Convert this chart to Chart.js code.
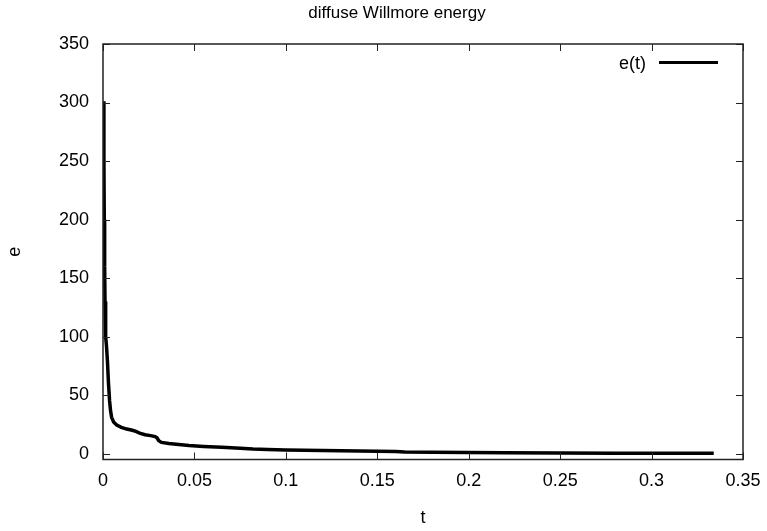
<!DOCTYPE html>
<html>
<head>
<meta charset="utf-8">
<title>diffuse Willmore energy</title>
<script src="https://cdn.jsdelivr.net/npm/chart.js@4.4.1/dist/chart.umd.min.js"></script>
<style>
  html, body { margin: 0; padding: 0; background: #fff; }
  #wrap { width: 767px; height: 531px; }
</style>
</head>
<body>
<div id="wrap"><canvas id="chart"></canvas></div>
<script>
// energy curve e(t)
const tValues = [0.0004, 0.0005, 0.0007, 0.0009, 0.0011, 0.0013, 0.0016, 0.0019, 0.0024, 0.0030,
  0.0036, 0.0041, 0.0047, 0.0058, 0.0075, 0.010, 0.013, 0.016, 0.018, 0.020,
  0.023, 0.026, 0.0285, 0.0295, 0.0305, 0.032, 0.036, 0.040, 0.047, 0.055,
  0.065, 0.075, 0.082, 0.090, 0.10, 0.12, 0.14, 0.16, 0.165, 0.18,
  0.20, 0.22, 0.25, 0.28, 0.31, 0.334]
const eValues = [301, 250, 200, 160, 130, 115, 100, 92, 80, 60,
  45, 37, 31, 27, 24.5, 22.5, 21, 20, 19, 17.5,
  16.2, 15.4, 14.6, 13.5, 11, 9.6, 8.6, 8.0, 7.0, 6.2,
  5.4, 4.7, 4.0, 3.6, 3.2, 2.7, 2.3, 1.9, 1.5, 1.2,
  0.9, 0.7, 0.5, 0.4, 0.3, 0.3]

const xTicks = [0, 0.05, 0.1, 0.15, 0.2, 0.25, 0.3, 0.35]
const yTicks = [0, 50, 100, 150, 200, 250, 300, 350]

const seriesLabel = 'e(t)'
const chartTitle = 'diffuse Willmore energy'
const FONT = 'Liberation Sans, Arial, Helvetica, sans-serif'

// gnuplot style frame: box plus inward ticks on all four sides
const framePlugin = {
  id: 'frame',
  afterDatasetsDraw(chart) {
    const { ctx, chartArea: a, scales } = chart
    const len = 7
    ctx.save()
    ctx.strokeStyle = '#222'
    ctx.lineWidth = 1.5
    ctx.strokeRect(a.left, a.top, a.right - a.left, a.bottom - a.top)
    ctx.lineWidth = 1
    ctx.beginPath()
    scales.x.ticks.forEach(t => {
      const x = Math.round(scales.x.getPixelForValue(t.value)) + 0.5
      ctx.moveTo(x, a.bottom); ctx.lineTo(x, a.bottom - len)
      ctx.moveTo(x, a.top); ctx.lineTo(x, a.top + len)
    })
    scales.y.ticks.forEach(t => {
      const y = Math.round(scales.y.getPixelForValue(t.value)) + 0.5
      ctx.moveTo(a.left, y); ctx.lineTo(a.left + len, y)
      ctx.moveTo(a.right, y); ctx.lineTo(a.right - len, y)
    })
    ctx.stroke()
    ctx.restore()
  },
  afterDraw(chart) {
    const { ctx } = chart
    const ds = chart.data.datasets[0]
    ctx.save()
    // title
    ctx.fillStyle = '#000'
    ctx.font = '17px ' + FONT
    ctx.textAlign = 'center'
    ctx.textBaseline = 'alphabetic'
    ctx.fillText(chartTitle, 397, 18)
    // key, top right inside the plot
    ctx.font = '18px ' + FONT
    ctx.textAlign = 'right'
    ctx.textBaseline = 'middle'
    ctx.fillText(ds.label, 646, 64)
    ctx.strokeStyle = ds.borderColor
    ctx.lineWidth = 3
    ctx.beginPath()
    ctx.moveTo(659, 62.5)
    ctx.lineTo(718, 62.5)
    ctx.stroke()
    ctx.restore()
  }
}

const points = tValues.map((t, i) => ({ x: t, y: eValues[i] }))

new Chart(document.getElementById('chart'), {
  type: 'line',
  data: {
    datasets: [{
      label: seriesLabel,
      data: points,
      borderColor: '#000',
      borderWidth: 3.5,
      pointRadius: 0,
      tension: 0,
      fill: false
    }]
  },
  options: {
    responsive: true,
    maintainAspectRatio: false,
    animation: false,
    layout: { padding: { top: 44, right: 24, left: 0, bottom: 0 } },
    plugins: {
      legend: { display: false },
      title: { display: false },
      tooltip: { enabled: false }
    },
    scales: {
      x: {
        type: 'linear',
        min: 0,
        max: 0.35,
        afterBuildTicks: s => { s.ticks = xTicks.map(v => ({ value: v })) },
        afterFit: s => { s.height = 71.5; s.paddingLeft = 0; s.paddingRight = 0 },
        grid: { display: false, drawTicks: false },
        border: { display: false },
        ticks: {
          color: '#000',
          font: { family: FONT, size: 18 },
          padding: 11,
          maxRotation: 0,
          callback: v => String(+v.toFixed(2))
        },
        title: {
          display: true,
          text: 't',
          color: '#000',
          font: { family: FONT, size: 18 },
          padding: { top: 0, bottom: 2 }
        }
      },
      y: {
        type: 'linear',
        min: -5,
        max: 350,
        afterBuildTicks: s => { s.ticks = yTicks.map(v => ({ value: v })) },
        afterFit: s => { s.width = 103; s.paddingTop = 0; s.paddingBottom = 0 },
        grid: { display: false, drawTicks: false },
        border: { display: false },
        ticks: {
          color: '#000',
          font: { family: FONT, size: 18 },
          padding: 14
        },
        title: {
          display: true,
          text: 'e',
          color: '#000',
          font: { family: FONT, size: 18 },
          padding: { top: 4, bottom: 0 }
        }
      }
    }
  },
  plugins: [framePlugin]
})
</script>
</body>
</html>
